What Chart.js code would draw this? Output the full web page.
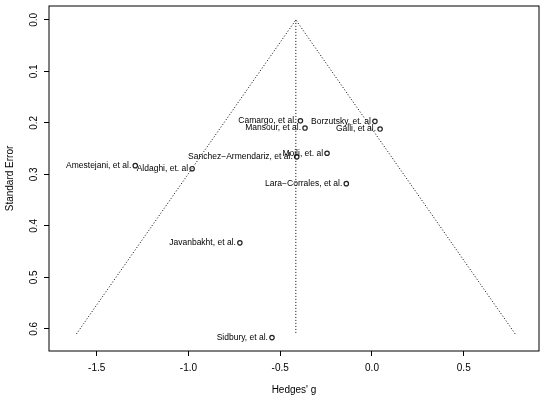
<!DOCTYPE html>
<html>
<head>
<meta charset="utf-8">
<script src="https://cdn.jsdelivr.net/npm/chart.js@4"></script>
<style>
  body { margin: 0; background: #fff; }
  #wrap { width: 550px; height: 400px; }
</style>
</head>
<body>
<div id="wrap"><canvas id="funnel"></canvas></div>
<script>
const studies = [
  "Camargo, et al.", "Mansour, et al.", "Borzutsky, et. al", "Galli, et al.",
  "Mojli, et. al", "Sanchez\u2212Armendariz, et al.", "Amestejani, et al.",
  "Aldaghi, et. al", "Lara\u2212Corrales, et al.", "Javanbakht, et al.", "Sidbury, et al."
];
const hedgesG = [-0.39, -0.365, 0.016, 0.044, -0.245, -0.41, -1.29, -0.98, -0.14, -0.72, -0.545];
const stdErr = [0.196, 0.210, 0.197, 0.212, 0.259, 0.266, 0.283, 0.289, 0.318, 0.433, 0.617];
const pooledG = -0.415;
const funnelSE = 0.61;
const xTicks = [-1.5, -1.0, -0.5, 0.0, 0.5];
const yTicks = [0, 0.1, 0.2, 0.3, 0.4, 0.5, 0.6];

const font = "Liberation Sans, Arial, sans-serif";
const half = 1.96 * funnelSE;

const labelPlugin = {
  id: "labels",
  afterDatasetsDraw(chart) {
    const { ctx, chartArea: a, scales: { x, y } } = chart;
    ctx.save();
    ctx.strokeStyle = "#000";
    ctx.lineWidth = 1;
    ctx.strokeRect(a.left, a.top, a.right - a.left, a.bottom - a.top);
    ctx.fillStyle = "#000";
    ctx.font = "8.5px " + font;
    ctx.textAlign = "right";
    ctx.textBaseline = "middle";
    studies.forEach((s, i) => {
      ctx.fillText(s, x.getPixelForValue(hedgesG[i]) - 4, y.getPixelForValue(stdErr[i]));
    });
    // rotated y tick labels
    ctx.font = "10px " + font;
    ctx.textAlign = "center";
    ctx.textBaseline = "bottom";
    yTicks.forEach(v => {
      ctx.save();
      ctx.translate(a.left - 10, y.getPixelForValue(v));
      ctx.rotate(-Math.PI / 2);
      ctx.fillText(v.toFixed(1), 0, 0);
      ctx.restore();
    });
    ctx.restore();
  }
};

new Chart(document.getElementById("funnel"), {
  type: "scatter",
  data: {
    datasets: [
      {
        data: hedgesG.map((g, i) => ({ x: g, y: stdErr[i] })),
        pointStyle: "circle",
        pointRadius: 2.2,
        borderWidth: 1.2,
        borderColor: "#222",
        backgroundColor: "rgba(0,0,0,0)"
      },
      {
        type: "line",
        data: [
          { x: pooledG - half, y: funnelSE },
          { x: pooledG, y: 0 },
          { x: pooledG + half, y: funnelSE }
        ],
        borderColor: "#000",
        borderWidth: 1,
        borderDash: [1, 2],
        pointRadius: 0,
        fill: false
      },
      {
        type: "line",
        data: [{ x: pooledG, y: 0 }, { x: pooledG, y: funnelSE }],
        borderColor: "#000",
        borderWidth: 1,
        borderDash: [1, 2],
        pointRadius: 0,
        fill: false
      }
    ]
  },
  options: {
    responsive: true,
    maintainAspectRatio: false,
    animation: false,
    layout: { padding: { top: 6, right: 11 } },
    plugins: { legend: { display: false }, tooltip: { enabled: false } },
    scales: {
      x: {
        type: "linear",
        min: -1.76,
        max: 0.91,
        afterBuildTicks: s => { s.ticks = xTicks.map(v => ({ value: v })); },
        afterFit: s => { s.height = 49; },
        border: { display: false },
        grid: { drawOnChartArea: false, tickLength: 5, color: "#000" },
        ticks: { color: "#000", font: { family: font, size: 10 }, padding: 6, callback: v => v.toFixed(1) },
        title: { display: true, text: "Hedges' g", color: "#000", font: { family: font, size: 10 }, padding: { top: 6 } }
      },
      y: {
        type: "linear",
        reverse: true,
        min: -0.027,
        max: 0.643,
        afterBuildTicks: s => { s.ticks = yTicks.map(v => ({ value: v })); },
        afterFit: s => { s.width = 49; },
        border: { display: false },
        grid: { drawOnChartArea: false, tickLength: 5, color: "#000" },
        ticks: { display: false },
        title: { display: true, text: "Standard Error", color: "#000", font: { family: font, size: 10 }, padding: { bottom: 0 } }
      }
    }
  },
  plugins: [labelPlugin]
});
</script>
</body>
</html>
